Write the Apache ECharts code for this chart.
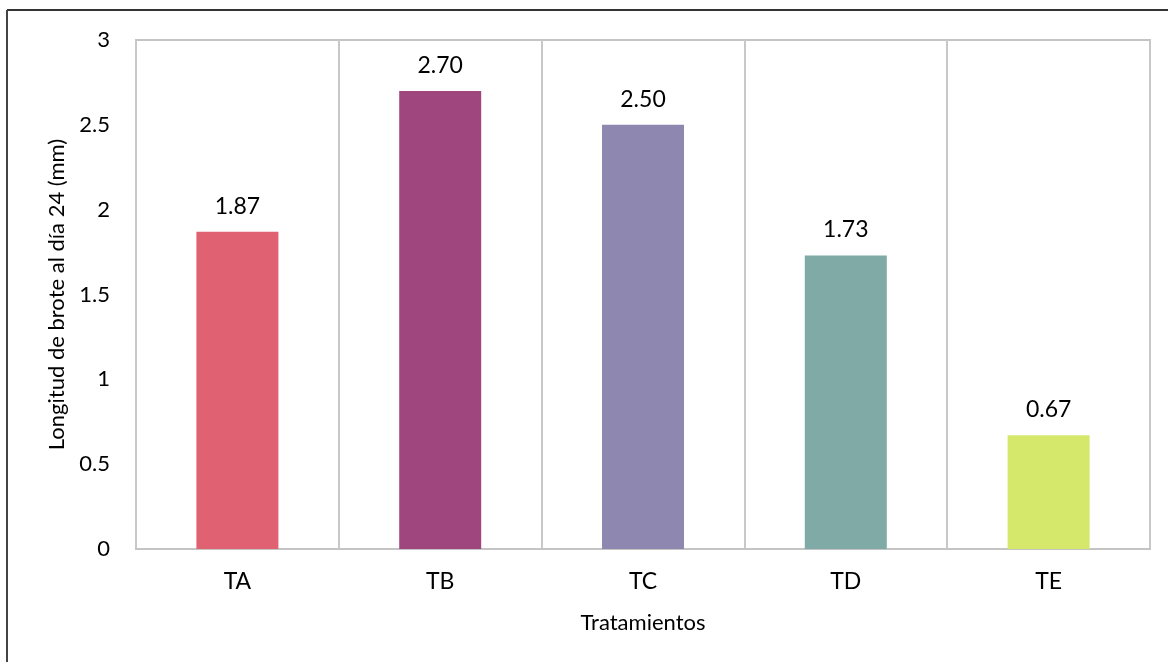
<!DOCTYPE html>
<html>
<head>
<meta charset="utf-8">
<script src="https://cdn.jsdelivr.net/npm/echarts@6/dist/echarts.min.js"></script>
<style>
  html, body { margin: 0; padding: 0; background: #fff; }
  #chart { width: 1168px; height: 662px; }
</style>
</head>
<body>
<div id="chart"></div>
<script>
// Shoot length at day 24 per treatment
const categories = ['TA', 'TB', 'TC', 'TD', 'TE'];
const values = [1.87, 2.70, 2.50, 1.73, 0.67];
const barColors = ['#E06272', '#A0467E', '#8E87AF', '#7FAAA5', '#D6E86C'];
const yTicks = [0, 0.5, 1, 1.5, 2, 2.5, 3];

const fontFamily = 'Lato, "Open Sans", sans-serif';
const chart = echarts.init(document.getElementById('chart'));

chart.setOption({
  animation: false,
  backgroundColor: '#fff',
  graphic: [
    { type: 'line', shape: { x1: 7, y1: 10, x2: 1168, y2: 10 }, style: { stroke: '#333', lineWidth: 2 } },
    { type: 'line', shape: { x1: 7, y1: 10, x2: 7, y2: 662 }, style: { stroke: '#444', lineWidth: 2 } }
  ],
  grid: {
    left: 136, right: 18, top: 40, bottom: 113,
    show: true, borderColor: '#c4c4c4', borderWidth: 2, backgroundColor: 'transparent'
  },
  xAxis: {
    type: 'category',
    data: categories,
    name: 'Tratamientos',
    nameLocation: 'middle',
    nameGap: 63,
    nameTextStyle: { fontFamily, fontSize: 22, color: '#000' },
    axisLine: { show: true, lineStyle: { color: '#c4c4c4', width: 2 } },
    axisTick: { show: false },
    axisLabel: { fontFamily, fontSize: 23, color: '#000', margin: 21 },
    splitLine: { show: true, lineStyle: { color: '#c8c8c8', width: 2 } }
  },
  yAxis: {
    type: 'value',
    min: yTicks[0],
    max: yTicks[yTicks.length - 1],
    interval: 0.5,
    name: 'Longitud de brote al día 24 (mm)',
    nameLocation: 'middle',
    nameGap: 68,
    nameTextStyle: { fontFamily, fontSize: 22, color: '#000' },
    axisLine: { show: false },
    axisTick: { show: false },
    axisLabel: { fontFamily, fontSize: 22, color: '#000', margin: 26 },
    splitLine: { show: false }
  },
  series: [{
    type: 'bar',
    data: values.map((v, i) => ({ value: v, itemStyle: { color: barColors[i] } })),
    barWidth: 82,
    label: {
      show: true,
      position: 'top',
      distance: 14,
      fontFamily,
      fontSize: 23,
      color: '#000',
      formatter: p => p.value.toFixed(2)
    }
  }]
});
</script>
</body>
</html>
